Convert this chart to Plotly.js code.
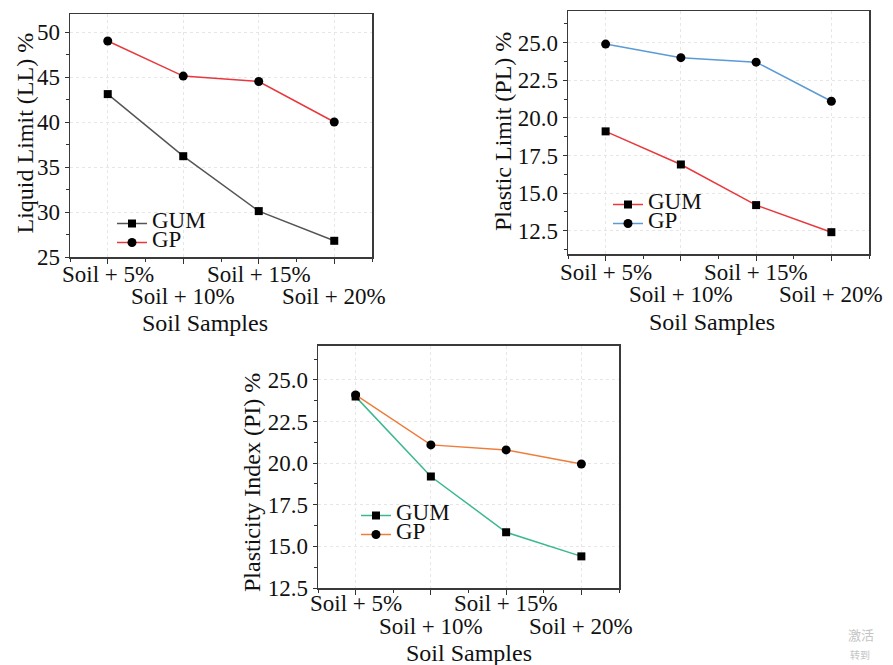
<!DOCTYPE html>
<html>
<head>
<meta charset="utf-8">
<script src="https://cdn.plot.ly/plotly-3.0.1.min.js"></script>
<style>html,body{margin:0;padding:0;background:#fff;}#chart{width:893px;height:665px;}</style>
</head>
<body>
<div id="chart"></div>
<script>
// ---- data ----
const categories = ['Soil + 5%', 'Soil + 10%', 'Soil + 15%', 'Soil + 20%'];
const seriesNames = ['GUM', 'GP'];
const llGUM = [43.1, 36.2, 30.1, 26.8];
const llGP  = [49.0, 45.1, 44.5, 40.0];
const plGUM = [19.1, 16.9, 14.2, 12.4];
const plGP  = [24.9, 24.0, 23.7, 21.1];
const piGUM = [24.0, 19.2, 15.85, 14.4];
const piGP  = [24.1, 21.1, 20.8, 19.95];
const yTitles = ['Liquid Limit (LL) %', 'Plastic Limit (PL) %', 'Plasticity Index (PI) %'];
const xTitle = 'Soil Samples';

const W = 893, H = 665;
const FONT = 'Liberation Serif';
const idx = categories.map((c, i) => i);
const px = v => v / W;
const py = v => 1 - v / H;

// panel geometry (pixels): left, right, top, bottom
const panels = [
  {l: 70, r: 372, t: 14, b: 257, yr: [25, 52], dt: 5, fmt: 'd', colors: ['#555555', '#e8383d'], data: [llGUM, llGP],
   row1: 274.5, row2: 296.5, xt: {x: 205, y: 323}, yt: {x: 24, y: 133.5}, leg: {x: 112, y: 209}},
  {l: 568, r: 869, t: 11, b: 254, yr: [10.95, 27.1], dt: 2.5, fmt: '.1f', colors: ['#e8383d', '#5b9bd5'], data: [plGUM, plGP],
   row1: 272, row2: 295, xt: {x: 712, y: 322}, yt: {x: 503, y: 132}, leg: {x: 608, y: 190}},
  {l: 318, r: 619, t: 345.7, b: 588, yr: [12.5, 27.06], dt: 2.5, fmt: '.1f', colors: ['#3cb891', '#f07c3a'], data: [piGUM, piGP],
   row1: 603, row2: 626.5, xt: {x: 469, y: 653}, yt: {x: 252, y: 482}, leg: {x: 356, y: 501}}
];

const traces = [];
const layout = {
  width: W, height: H,
  margin: {l: 0, r: 0, t: 0, b: 0},
  paper_bgcolor: '#ffffff', plot_bgcolor: '#ffffff',
  showlegend: true,
  font: {family: FONT, color: '#111'},
  annotations: []
};

panels.forEach((p, k) => {
  const n = k === 0 ? '' : String(k + 1);
  const xa = 'x' + n, ya = 'y' + n;
  const legName = k === 0 ? 'legend' : 'legend' + (k + 1);
  const symbols = ['square', 'circle'];
  const sizes = [8, 9];
  p.data.forEach((vals, j) => {
    traces.push({
      type: 'scatter', mode: 'lines+markers',
      x: idx, y: vals, xaxis: xa, yaxis: ya,
      name: '<span style="font-size:23px">' + seriesNames[j] + '</span>',
      legend: legName,
      line: {color: p.colors[j], width: 1.5},
      marker: {symbol: symbols[j], size: sizes[j], color: '#000000'}
    });
  });
  layout['xaxis' + n] = {
    domain: [px(p.l), px(p.r)], anchor: ya,
    range: [-0.5, 3.5], tickmode: 'array', tickvals: idx, showticklabels: false,
    ticks: 'outside', ticklen: 5, tickcolor: '#333', tickwidth: 1,
    minor: {tickmode: 'linear', tick0: 0.5, dtick: 1, ticks: 'outside', ticklen: 3, tickcolor: '#333', showgrid: false},
    showline: true, linecolor: '#3a3a3a', linewidth: 1.5, mirror: true,
    showgrid: true, gridcolor: '#e6e6e6', griddash: 'dot', gridwidth: 1, zeroline: false
  };
  layout['yaxis' + n] = {
    domain: [py(p.b), py(p.t)], anchor: xa,
    range: p.yr, tick0: 0, dtick: p.dt, tickformat: p.fmt,
    ticks: 'outside', ticklen: 4, tickcolor: '#333', tickwidth: 1,
    minor: {dtick: p.dt / 2, ticks: 'outside', ticklen: 3, tickcolor: '#333', showgrid: false},
    tickfont: {family: FONT, size: 23, color: '#111'},
    showline: true, linecolor: '#3a3a3a', linewidth: 1.5, mirror: true,
    showgrid: true, gridcolor: '#e6e6e6', griddash: 'dot', gridwidth: 1, zeroline: false
  };
  layout[legName] = {
    x: px(p.leg.x), y: py(p.leg.y), xanchor: 'left', yanchor: 'top',
    bgcolor: 'rgba(0,0,0,0)', borderwidth: 0, tracegroupgap: 0,
    font: {family: FONT, size: 12, color: '#111'}
  };
  // staggered category labels
  categories.forEach((c, i) => {
    layout.annotations.push({
      text: c, x: i, xref: xa, y: py(i % 2 === 0 ? p.row1 : p.row2), yref: 'paper',
      xanchor: 'center', yanchor: 'middle', showarrow: false,
      font: {family: FONT, size: 23, color: '#111'}
    });
  });
  layout.annotations.push({
    text: xTitle, x: px(p.xt.x), y: py(p.xt.y), xref: 'paper', yref: 'paper',
    xanchor: 'center', yanchor: 'middle', showarrow: false,
    font: {family: FONT, size: 24, color: '#111'}
  });
  layout.annotations.push({
    text: yTitles[k], x: px(p.yt.x), y: py(p.yt.y), xref: 'paper', yref: 'paper',
    xanchor: 'center', yanchor: 'middle', showarrow: false, textangle: -90,
    font: {family: FONT, size: 24, color: '#111'}
  });
});

// faint system watermark seen in the reference
layout.annotations.push({text: '激活', x: px(861), y: py(634), xref: 'paper', yref: 'paper', showarrow: false,
  xanchor: 'center', yanchor: 'middle', font: {family: 'Noto Sans CJK SC', size: 13, color: '#c4c4c4'}});
layout.annotations.push({text: '转到', x: px(860), y: py(654), xref: 'paper', yref: 'paper', showarrow: false,
  xanchor: 'center', yanchor: 'middle', font: {family: 'Noto Sans CJK SC', size: 10, color: '#c4c4c4'}});

Plotly.newPlot('chart', traces, layout, {staticPlot: true, displayModeBar: false});
</script>
</body>
</html>
